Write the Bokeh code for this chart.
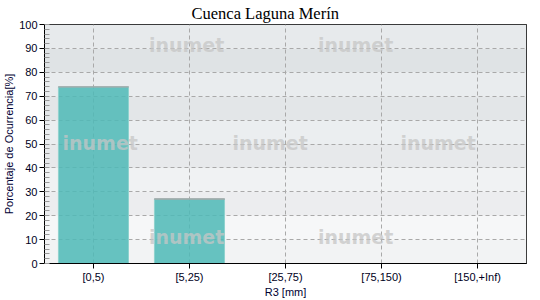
from bokeh.plotting import figure
from bokeh.models import (FactorRange, Range1d, SingleIntervalTicker, BoxAnnotation,
                          Label, ColumnDataSource, Title)
from bokeh.embed import file_html
from bokeh.resources import INLINE

# ---- data ----
categories = ["[0,5)", "[5,25)", "[25,75)", "[75,150)", "[150,+Inf)"]
values = [73.9, 27.0, 0.0, 0.0, 0.0]
title_text = "Cuenca Laguna Merín"
x_label = "R3 [mm]"
y_label = "Porcentaje de Ocurrencia[%]"
watermark = "inumet"

p = figure(width=540, height=300, output_backend="svg", toolbar_location=None,
           x_range=FactorRange(factors=categories, range_padding=0.004),
           y_range=Range1d(0, 100),
           min_border_left=44, min_border_right=14, min_border_top=24, min_border_bottom=37)

p.background_fill_color = "white"
p.border_fill_color = "white"
p.outline_line_color = "black"
p.outline_line_width = 1

# background bands
band_colors = ["#f2f3f4", "#f6f7f8", "#ecedef", "#f0f2f3", "#e7e9eb",
               "#ebeef0", "#e3e6e8", "#e9ecee", "#dfe3e5", "#e7eaec"]
for i, c in enumerate(band_colors):
    p.add_layout(BoxAnnotation(bottom=i * 10, top=(i + 1) * 10, fill_color=c,
                               fill_alpha=1, line_color=None, level="image"))

# grids
for g in (p.xgrid, p.ygrid):
    g.grid_line_color = "#a9a9a9"
    g.grid_line_dash = "4 3"
    g.grid_line_width = 1
    g.level = "underlay"
p.ygrid.ticker = SingleIntervalTicker(interval=10, num_minor_ticks=5)

# bars
src = ColumnDataSource(dict(x=categories, top=values))
p.vbar(x="x", top="top", width=0.73, source=src, fill_color="#4fb9b7",
       fill_alpha=0.86, line_color="#8fd2ce", line_width=1)
pos = [(c, v) for c, v in zip(categories, values) if v > 0]
seg = ColumnDataSource(dict(x=[c for c, _ in pos], top=[v for _, v in pos]))
p.rect(x="x", y="top", width=0.735, height=0.6, source=seg,
       fill_color="#a2a4a4", line_color=None)

# axes
p.yaxis.ticker = SingleIntervalTicker(interval=10, num_minor_ticks=5)
for ax in (p.xaxis, p.yaxis):
    ax.axis_line_color = "black"
    ax.axis_line_width = 1
    ax.major_tick_line_color = "black"
    ax.major_label_text_font = "Liberation Sans"
    ax.major_label_text_font_size = "11px"
    ax.major_label_text_color = "#000022"
    ax.axis_label_text_font = "Liberation Sans"
    ax.axis_label_text_font_size = "11px"
    ax.axis_label_text_font_style = "normal"
    ax.axis_label_text_color = "#000033"

p.yaxis.major_tick_out = 5
p.yaxis.major_tick_in = 0
p.yaxis.minor_tick_in = 5
p.yaxis.minor_tick_out = 0
p.yaxis.minor_tick_line_color = "#999999"
p.yaxis.major_label_standoff = 2
p.yaxis.axis_label = y_label
p.yaxis.axis_label_standoff = 1

p.xaxis.major_tick_out = 5
p.xaxis.major_tick_in = 0
p.xaxis.minor_tick_line_color = None
p.xaxis.major_label_standoff = 2
p.xaxis.axis_label = x_label
p.xaxis.axis_label_standoff = 0

# title
t = Title(text=title_text, align="left", offset=147, text_font="Liberation Serif",
          text_font_size="16.5px", text_font_style="normal", text_color="black",
          standoff=3)
p.add_layout(t, "above")

# watermarks
wm_pos = [(1.47, 91.5), (3.23, 91.5), (0.57, 50.3), (2.34, 50.3), (4.09, 50.3),
          (1.47, 11.0), (3.23, 11.0)]
for x, y in wm_pos:
    p.add_layout(Label(x=x, y=y, text=watermark, text_font="DejaVu Sans",
                       text_font_style="bold", text_font_size="19px",
                       text_color="#c6c6c6", text_alpha=0.75,
                       text_align="center", text_baseline="middle"))

open("out.html", "w").write(file_html(p, INLINE))
